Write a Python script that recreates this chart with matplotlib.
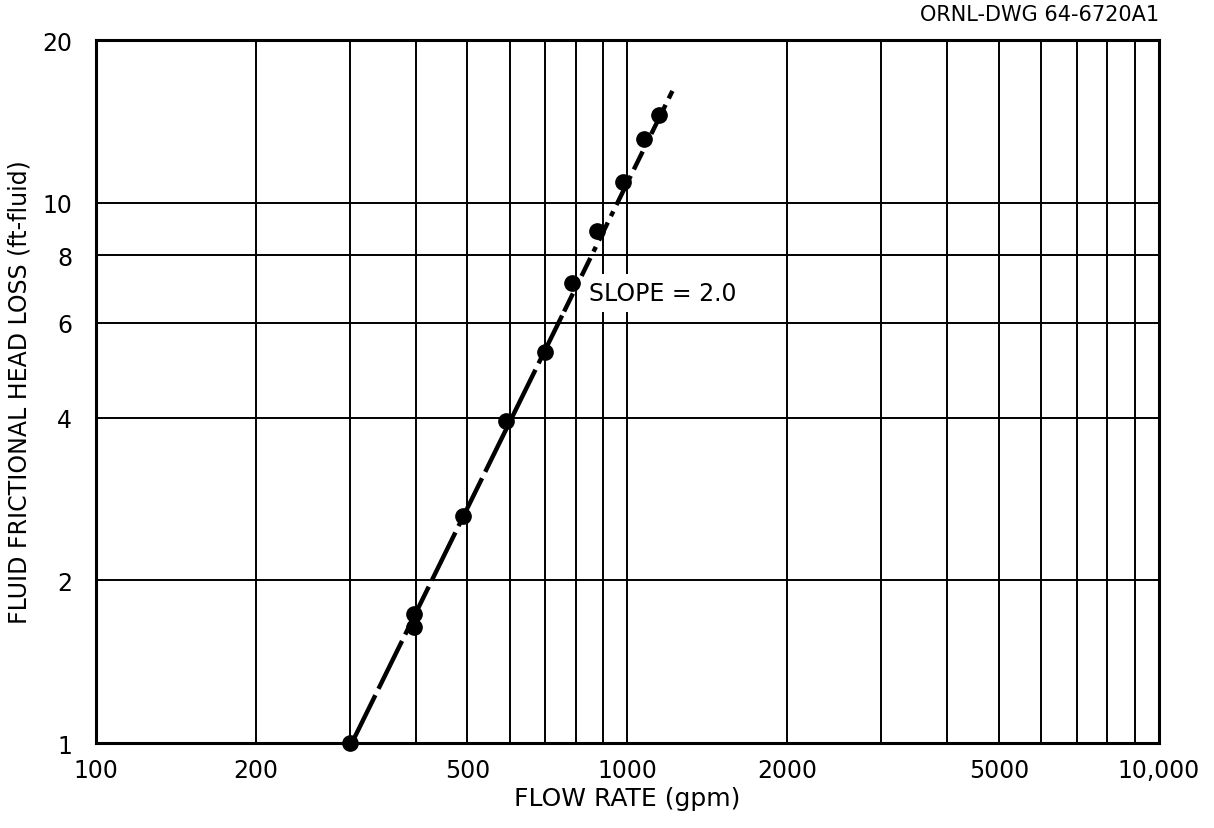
import numpy as np
import matplotlib
matplotlib.use("Agg")
import matplotlib.pyplot as plt
from matplotlib.ticker import FixedLocator, FixedFormatter, NullLocator

# measured points (flow rate gpm, head loss ft-fluid)
flow = [300, 397, 397, 490, 590, 700, 785, 878, 983, 1076, 1148]
head = [1.0, 1.64, 1.73, 2.63, 3.95, 5.3, 7.1, 8.87, 10.9, 13.1, 14.5]

# slope 2.0 fit line, split where the dash style changes
fit_lo_x = [303, 760]
fit_lo_y = [1.0, 6.29]
fit_hi_x = [760, 1215]
fit_hi_y = [6.29, 16.1]

xticks = [100, 200, 500, 1000, 2000, 5000, 10000]
xlabels = ["100", "200", "500", "1000", "2000", "5000", "10,000"]
yticks = [1, 2, 4, 6, 8, 10, 20]
ylabels = ["1", "2", "4", "6", "8", "10", "20"]
xgrid = [200, 300, 400, 500, 600, 700, 800, 900, 1000,
         2000, 3000, 4000, 5000, 6000, 7000, 8000, 9000]
ygrid = [2, 4, 6, 8, 10]

plt.rcParams['font.family'] = ['DejaVu Sans']
fig = plt.figure(figsize=(12.14, 8.29), dpi=100)
ax = fig.add_axes([0.079, 0.1025, 0.8757, 0.848])
ax.set_xscale('log')
ax.set_yscale('log')
ax.set_xlim(100, 10000)
ax.set_ylim(1, 20)

for gx in xgrid:
    ax.axvline(gx, color='black', lw=1.4, zorder=1)
for gy in ygrid:
    ax.axhline(gy, color='black', lw=1.4, zorder=1)

ax.plot(fit_lo_x, fit_lo_y, color='black', lw=3.2, dashes=(12, 1.6), zorder=3)
ax.plot(fit_hi_x, fit_hi_y, color='black', lw=3.2, dashes=(4.5, 1.6, 1.2, 1.6), zorder=3)
ax.plot(flow, head, 'o', color='black', ms=11, zorder=4, clip_on=False)

ax.text(845, 6.8, "SLOPE = 2.0", fontsize=17, va='center', ha='left', zorder=2,
        bbox=dict(facecolor='white', edgecolor='none', pad=5))

ax.xaxis.set_major_locator(FixedLocator(xticks))
ax.xaxis.set_major_formatter(FixedFormatter(xlabels))
ax.xaxis.set_minor_locator(NullLocator())
ax.yaxis.set_major_locator(FixedLocator(yticks))
ax.yaxis.set_major_formatter(FixedFormatter(ylabels))
ax.yaxis.set_minor_locator(NullLocator())
ax.tick_params(length=0, labelsize=17, pad=11)
ax.tick_params(axis='y', pad=17)

for s in ax.spines.values():
    s.set_linewidth(2.2)

ax.set_xlabel("FLOW RATE (gpm)", fontsize=18, labelpad=3)
ax.set_ylabel("FLUID FRICTIONAL HEAD LOSS (ft-fluid)", fontsize=17, labelpad=8)

fig.text(0.955, 0.982, "ORNL-DWG 64-6720A1", fontsize=15, ha='right', va='center')

fig.savefig("out.png", dpi=100)
